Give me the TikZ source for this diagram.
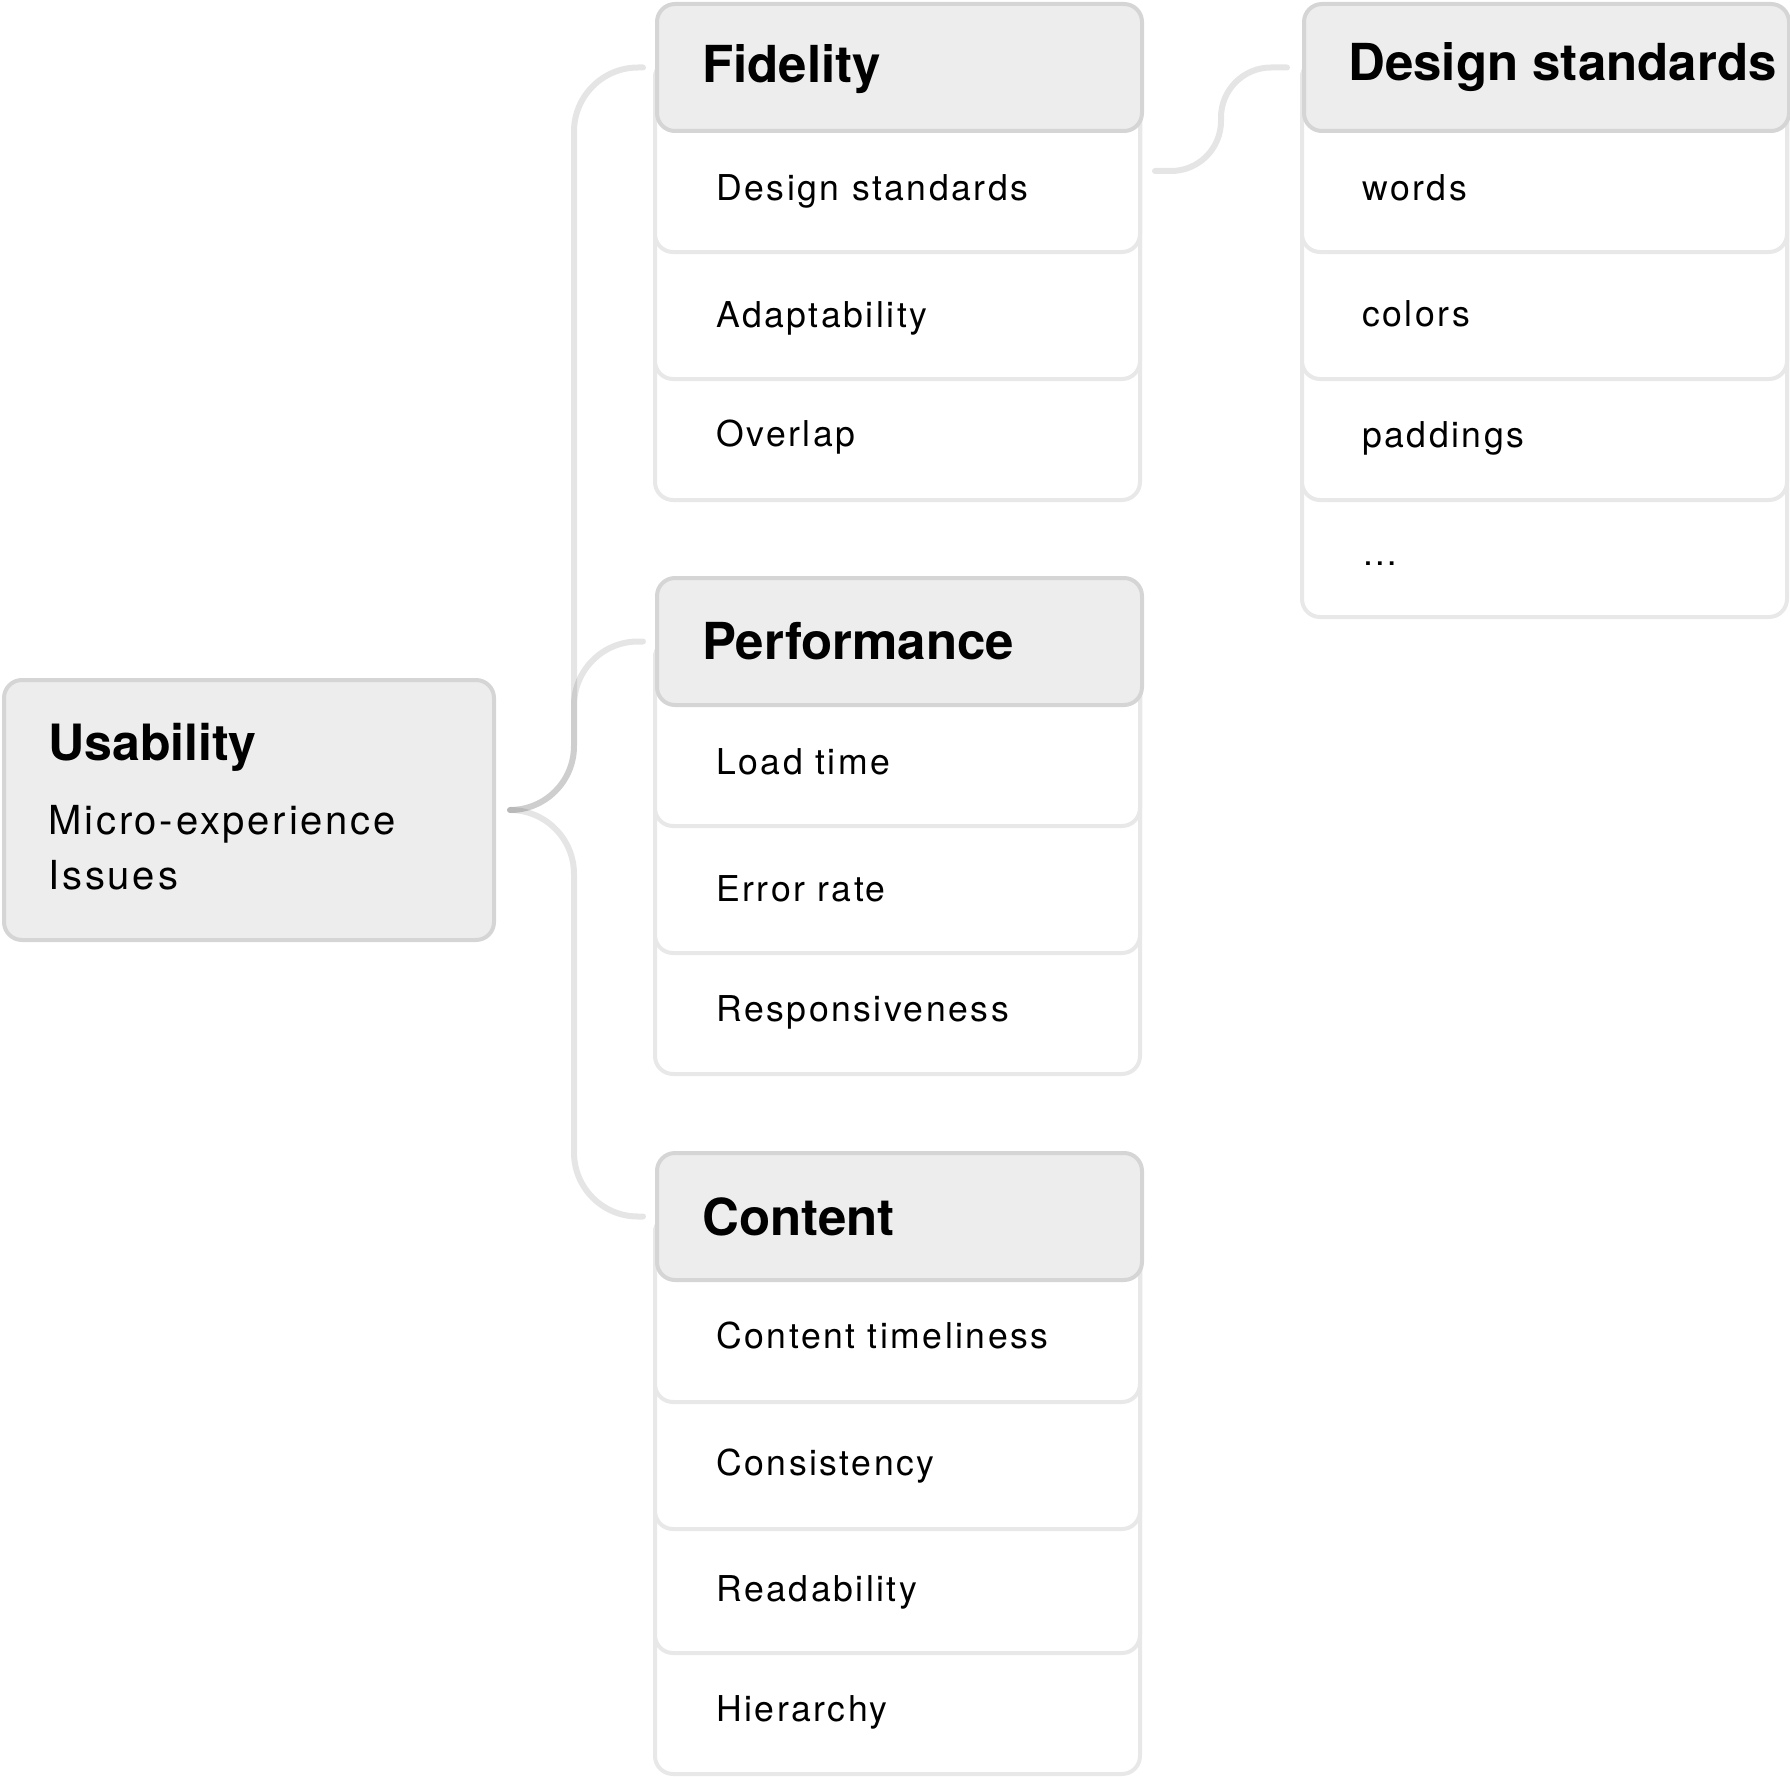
\documentclass[tikz,border=0pt]{standalone}
\usepackage{fontspec}
\setmainfont{TeX Gyre Heros}
\newfontfamily\itemfont{TeX Gyre Heros}[LetterSpace=7]
\usepackage{tikz}
\usetikzlibrary{calc}

\definecolor{headfill}{HTML}{EDEDED}
\definecolor{headline}{HTML}{D5D5D5}
\definecolor{itemline}{HTML}{E8E8E8}

\begin{document}
\begin{tikzpicture}[x=0.5pt,y=-0.5pt,
    headbox/.style={draw=headline,fill=headfill,line width=2pt,rounded corners=9pt,
      minimum width=242.5pt,minimum height=63.5pt,anchor=north west,inner sep=0pt},
    itembox/.style={draw=itemline,fill=white,line width=2pt,rounded corners=9pt},
    headtext/.style={anchor=west,inner sep=0pt,font=\fontsize{25.5}{30}\selectfont\bfseries},
    itemtext/.style={anchor=west,inner sep=0pt,font=\itemfont\fontsize{17.8}{21}\selectfont},
    link/.style={line width=3pt,line cap=round,draw=black,draw opacity=0.1,rounded corners=32pt}]
  \useasboundingbox (0,0) rectangle (1790,1777);

  % root
  \node[headbox,minimum width=245pt,minimum height=130pt] (usab) at (2,678) {};
  \node[anchor=base west,inner sep=0pt,font=\fontsize{25}{28}\selectfont\bfseries] (usab-title) at (48,760) {Usability};
  \node[anchor=north west,inner sep=0pt,align=left,font=\itemfont\fontsize{20}{27.5}\selectfont] (usab-sub) at (48,805) {Micro-experience\\Issues};

  % Fidelity
  \foreach \b in {500,379,252} \draw[itembox] (655,60) rectangle (1140,\b);
  \node[headbox] (fid) at (655,2) {};
  \node[headtext] (fid-title) at ([xshift=23.5pt,yshift=-1pt]fid.west) {Fidelity};
  \foreach \t/\y in {Design standards/191,Adaptability/318,Overlap/437}
    \node[itemtext] (fid-\y) at (716,\y) {\t};

  % Performance
  \foreach \b in {1074,953,826} \draw[itembox] (655,640) rectangle (1140,\b);
  \node[headbox] (perf) at (655,576) {};
  \node[headtext] (perf-title) at ([xshift=23.5pt]perf.west) {Performance};
  \foreach \t/\y in {Load time/762,Error rate/889,Responsiveness/1012}
    \node[itemtext] (perf-\y) at (716,\y) {\t};

  % Content
  \foreach \b in {1774,1653,1529,1402} \draw[itembox] (655,1215) rectangle (1140,\b);
  \node[headbox] (cont) at (655,1151) {};
  \node[headtext] (cont-title) at ([xshift=23.5pt]cont.west) {Content};
  \foreach \t/\y in {Content timeliness/1336,Consistency/1466,Readability/1592,Hierarchy/1712}
    \node[itemtext] (cont-\y) at (716,\y) {\t};

  % Design standards
  \foreach \b in {617,500,379,252} \draw[itembox] (1302,60) rectangle (1787,\b);
  \node[headbox] (ds) at (1302,2) {};
  \node[headtext] (ds-title) at ([xshift=23pt]ds.west) {Design standards};
  \foreach \t/\y in {words/188,colors/314,paddings/438,\ldots/564}
    \node[itemtext] (ds-\y) at (1362,\y) {\t};

  % links
  \coordinate (root-out) at ([xshift=7pt]usab.east);
  \coordinate (fid-in) at ([xshift=-6pt]fid.west);
  \coordinate (perf-in) at ([xshift=-6pt]perf.west);
  \coordinate (cont-in) at ([xshift=-6pt]cont.west);
  \draw[link] (root-out) -- ++(64,0) |- (fid-in);
  \draw[link] (root-out) -- ++(64,0) |- (perf-in);
  \draw[link] (root-out) -- ++(64,0) |- (cont-in);
  \coordinate (fid-1-out) at (1155,171);
  \coordinate (ds-in) at ([xshift=-7.5pt]ds.west);
  \draw[link,rounded corners=25pt] (fid-1-out) -- ++(66,0) |- (ds-in);
\end{tikzpicture}
\end{document}
